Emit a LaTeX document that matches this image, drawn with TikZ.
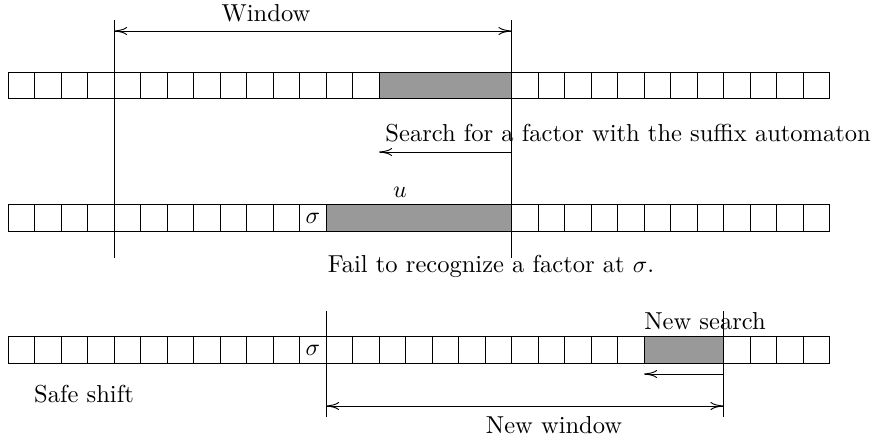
\documentclass[tikz,border=0pt]{standalone}
\usepackage{amsmath}
\usetikzlibrary{positioning,arrows.meta}

\begin{document}
\begin{tikzpicture}[x=0.42pt, y=-0.42pt, >={To[length=5.5pt,width=3.4pt]},
    font=\fontsize{10.3pt}{12pt}\selectfont,
    cell/.style={draw, minimum size=11.13pt, inner sep=0pt, outer sep=0pt},
    hit/.style={cell, fill=black!40, draw=black!40},
    lbl/.style={inner sep=0pt}]
    \useasboundingbox (0,0) rectangle (876,440);
    % the three rows of the text
    \foreach \i in {0,...,30}{
        \ifnum\i<14 \def\sa{cell}\else\ifnum\i>18 \def\sa{cell}\else\def\sa{hit}\fi\fi
        \ifnum\i<12 \def\sb{cell}\else\ifnum\i>18 \def\sb{cell}\else\def\sb{hit}\fi\fi
        \ifnum\i<24 \def\sc{cell}\else\ifnum\i>26 \def\sc{cell}\else\def\sc{hit}\fi\fi
        \node[\sa] (a\i) at ({21.25+26.5*\i},85.5) {};
        \node[\sb] (b\i) at ({21.25+26.5*\i},218) {};
        \node[\sc] (c\i) at ({21.25+26.5*\i},350) {};
    }
    \draw (a14.north west) rectangle (a18.south east);
    \draw (b12.north west) rectangle (b18.south east);
    \draw (c24.north west) rectangle (c26.south east);
    \node at (b11) {$\sigma$};
    \node at (c11) {$\sigma$};

    % window
    \coordinate (wl)  at (a4.north west |- 0,20);
    \coordinate (wl') at (a4.north west |- 0,258);
    \coordinate (wr)  at (a18.north east |- 0,20);
    \coordinate (wr') at (a18.north east |- 0,258);
    \draw (wl) -- (wl');
    \draw (wr) -- (wr');
    \draw[<->] (wl |- 0,31) -- (wr |- 0,31);
    \node[lbl] (win) at (266,13) {Window};

    \node[lbl, anchor=west] (srch) at (385,133) {Search for a factor with the suffix automaton};
    \draw[->] (wr |- 0,152) -- (a14.north west |- 0,152);

    \node[lbl] (u) at (400,192) {$u$};
    \node[lbl] (fail) at (491,266) {Fail to recognize a factor at $\sigma$.};

    % new window
    \coordinate (nl)  at (c12.north west |- 0,311);
    \coordinate (nl') at (c12.north west |- 0,417);
    \coordinate (nr)  at (c26.north east |- 0,311);
    \coordinate (nr') at (c26.north east |- 0,417);
    \draw (nl) -- (nl');
    \draw (nr) -- (nr');
    \draw[->] (nr |- 0,374) -- (c24.north west |- 0,374);
    \draw[<->] (nl |- 0,406) -- (nr |- 0,406);
    \node[lbl] (nsrch) at (705,321) {New search};
    \node[lbl] (nwin) at (554,425) {New window};
    \node[lbl] (safe) at (84,394) {Safe shift};
\end{tikzpicture}
\end{document}
